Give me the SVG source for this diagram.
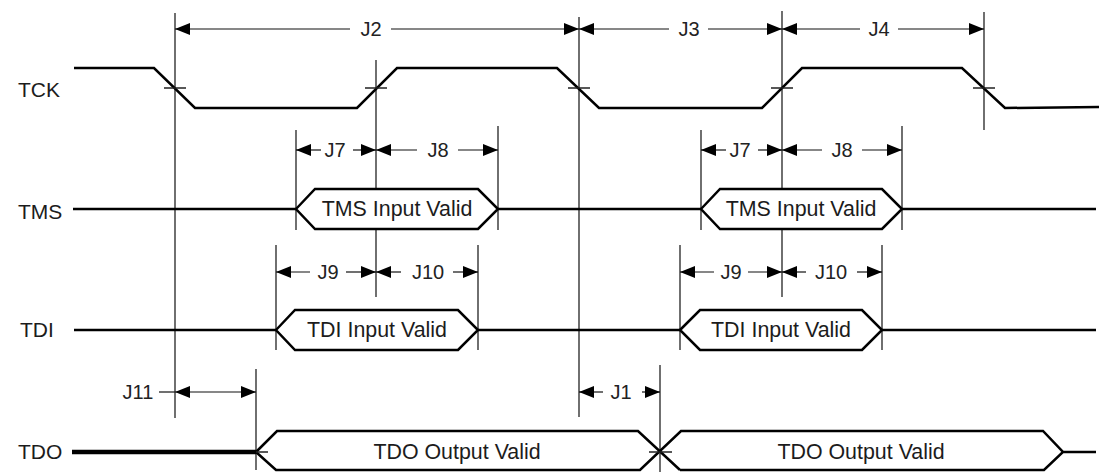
<svg xmlns="http://www.w3.org/2000/svg" width="1099" height="472" viewBox="0 0 1099 472">
<style>
.lbl{font-family:"Liberation Sans",Arial,sans-serif;font-size:21px;fill:#1c1c1c}
.j{font-family:"Liberation Sans",Arial,sans-serif;font-size:20px;fill:#222;text-anchor:middle}
.bt{font-family:"Liberation Sans",Arial,sans-serif;font-size:21.4px;fill:#1c1c1c;text-anchor:middle}
.wave{fill:none;stroke:#000;stroke-width:2.5;stroke-linejoin:miter}
.hex{fill:#fff;stroke:#000;stroke-width:2.5;stroke-linejoin:miter}
.ext{fill:none;stroke:#222;stroke-width:1.3}
.dim{fill:none;stroke:#111;stroke-width:1.2;marker-end:url(#ah)}
.dd{fill:none;stroke:#111;stroke-width:1.2;marker-end:url(#ah);marker-start:url(#ah)}
</style>
<defs>
<marker id="ah" viewBox="0 0 15 12" refX="15" refY="6" markerWidth="15" markerHeight="12" markerUnits="userSpaceOnUse" orient="auto-start-reverse">
<path d="M0,0 L15,6 L0,12 z" fill="#000"/>
</marker>
</defs>
<rect width="1099" height="472" fill="#fff"/>

<g id="labels">
<text class="lbl" x="18" y="97">TCK</text>
<text class="lbl" x="18" y="219">TMS</text>
<text class="lbl" x="20" y="337">TDI</text>
<text class="lbl" x="18" y="459">TDO</text>
</g>

<g id="extension-lines">
<line class="ext" x1="175" y1="13" x2="175" y2="418"/>
<line class="ext" x1="376" y1="60" x2="376" y2="297"/>
<line class="ext" x1="579" y1="17" x2="579" y2="417"/>
<line class="ext" x1="782" y1="11" x2="782" y2="297"/>
<line class="ext" x1="984" y1="12" x2="984" y2="130"/>
<line class="ext" x1="296" y1="130" x2="296" y2="230"/>
<line class="ext" x1="498" y1="126" x2="498" y2="230"/>
<line class="ext" x1="701" y1="130" x2="701" y2="230"/>
<line class="ext" x1="902" y1="126" x2="902" y2="230"/>
<line class="ext" x1="276" y1="245" x2="276" y2="350"/>
<line class="ext" x1="478" y1="245" x2="478" y2="350"/>
<line class="ext" x1="680" y1="245" x2="680" y2="350"/>
<line class="ext" x1="882" y1="245" x2="882" y2="350"/>
<line class="ext" x1="256" y1="369" x2="256" y2="470"/>
<line class="ext" x1="660" y1="365" x2="660" y2="472"/>
</g>

<g id="TCK">
<polyline class="wave" points="74,68 154,68 195,108 357,108 397,68 557,68 599,108 762,108 802,68 962,68 1005,108 1099,107"/>
<path class="ext" d="M164,88 H186 M365,88 H387 M568,88 H590 M771,88 H793 M973,88 H995"/>
</g>

<g id="TMS">
<path class="wave" d="M73,209 H296 M498,209 H701 M902,209 H1096"/>
<path class="hex" d="M296,209 L315,189 H478 L498,209 L478,229 H315 Z"/>
<path class="hex" d="M701,209 L720,189 H882 L902,209 L882,229 H720 Z"/>
<text class="bt" x="397" y="216">TMS Input Valid</text>
<text class="bt" x="801" y="216">TMS Input Valid</text>
</g>

<g id="TDI">
<path class="wave" d="M74,330 H276 M478,330 H680 M882,330 H1096"/>
<path class="hex" d="M276,330 L295,310 H458 L478,330 L458,350 H295 Z"/>
<path class="hex" d="M680,330 L700,310 H862 L882,330 L862,350 H700 Z"/>
<text class="bt" x="377" y="337">TDI Input Valid</text>
<text class="bt" x="781" y="337">TDI Input Valid</text>
</g>

<g id="TDO">
<line x1="72" y1="452" x2="256" y2="452" stroke="#000" stroke-width="4.5"/>
<path class="wave" d="M256,452 L277,431 H638 L680,470 M256,452 L276,470 H640 L681,431 H1043 L1063,452 L1044,470 H680 M1063,452 H1096"/>
<path class="ext" d="M256,452 H268 M649,452 H672"/>
<text class="bt" x="457" y="459">TDO Output Valid</text>
<text class="bt" x="861" y="459">TDO Output Valid</text>
</g>

<g id="connectors">
<path class="dim" d="M350,29 H175"/>
<path class="dim" d="M391,29 H579"/>
<text class="j" x="371" y="36">J2</text>
<path class="dim" d="M669,29 H579"/>
<path class="dim" d="M708,29 H782"/>
<text class="j" x="689" y="36">J3</text>
<path class="dim" d="M860,29 H782"/>
<path class="dim" d="M898,29 H984"/>
<text class="j" x="879" y="36">J4</text>

<path class="dim" d="M321,150 H296"/>
<path class="dim" d="M353,150 H376"/>
<text class="j" x="335" y="157">J7</text>
<path class="dim" d="M417,150 H376"/>
<path class="dim" d="M458,150 H498"/>
<text class="j" x="438" y="157">J8</text>
<path class="dim" d="M726,150 H701"/>
<path class="dim" d="M758,150 H782"/>
<text class="j" x="740" y="157">J7</text>
<path class="dim" d="M822,150 H782"/>
<path class="dim" d="M862,150 H902"/>
<text class="j" x="842" y="157">J8</text>

<path class="dim" d="M310,272 H276"/>
<path class="dim" d="M346,272 H376"/>
<text class="j" x="328" y="279">J9</text>
<path class="dim" d="M401,272 H376"/>
<path class="dim" d="M453,272 H478"/>
<text class="j" x="428" y="279">J10</text>
<path class="dim" d="M714,272 H680"/>
<path class="dim" d="M748,272 H782"/>
<text class="j" x="731" y="279">J9</text>
<path class="dim" d="M806,272 H782"/>
<path class="dim" d="M857,272 H882"/>
<text class="j" x="831" y="279">J10</text>

<path class="ext" d="M159,392 H175"/>
<path class="dd" d="M175,392 H256"/>
<text class="j" x="138" y="399">J11</text>
<path class="dim" d="M603,392 H579"/>
<path class="dim" d="M642,392 H660"/>
<text class="j" x="621" y="399">J1</text>
</g>
</svg>
